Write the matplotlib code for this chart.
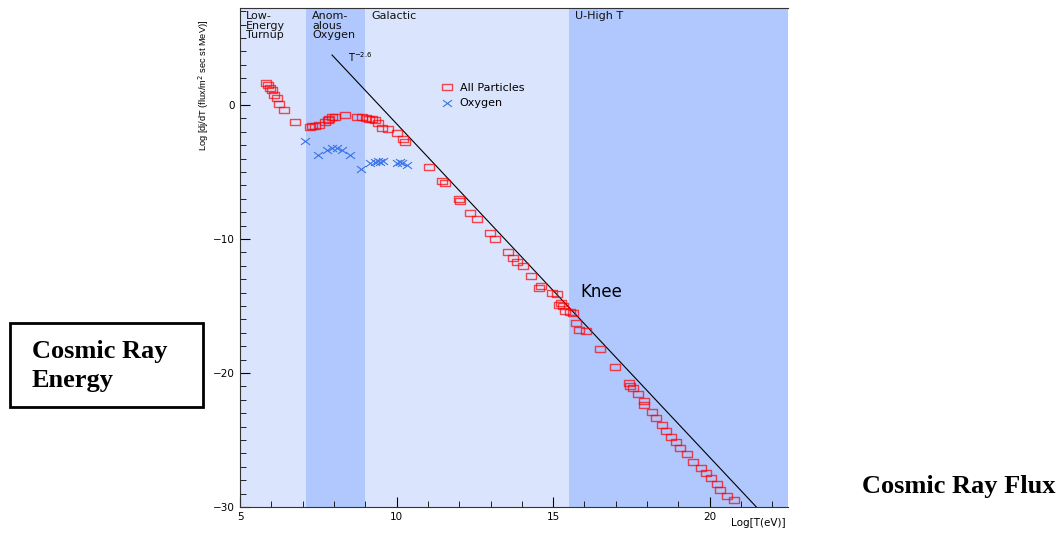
import matplotlib
matplotlib.use('Agg')
import matplotlib.pyplot as plt
from matplotlib.path import Path
from matplotlib.ticker import MultipleLocator
import numpy as np

## Data ##
all_x = [5.82, 5.88, 5.95, 6.01, 6.10, 6.17, 6.25, 6.42, 6.76,
         7.24, 7.31, 7.40, 7.52, 7.72, 7.80, 7.84, 7.95, 8.03, 8.35, 8.73, 8.89,
         9.02, 9.12, 9.20, 9.31, 9.40, 9.53, 9.72, 10.0, 10.19, 10.27,
         11.02, 11.44, 11.55, 11.98, 12.03, 12.35, 12.56, 12.99, 13.15, 13.57,
         13.73, 13.84, 14.03, 14.30, 14.56, 14.60, 14.95, 15.12, 15.20, 15.25,
         15.33, 15.38, 15.55, 15.65,
         15.72, 15.84, 16.05, 16.50, 16.96, 17.41, 17.46, 17.54, 17.71, 17.89,
         17.91, 18.15, 18.28, 18.49, 18.61, 18.77, 18.92, 19.06, 19.27, 19.48,
         19.72, 19.88, 20.04, 20.23, 20.34, 20.55, 20.78]
all_y = [1.66, 1.47, 1.30, 1.12, 0.77, 0.55, 0.10, -0.37, -1.27,
         -1.66, -1.57, -1.60, -1.47, -1.27, -1.15, -1.07, -0.92, -0.87, -0.77, -0.87, -0.92,
         -0.97, -1.02, -1.05, -1.12, -1.37, -1.72, -1.77, -2.07, -2.56, -2.76,
         -4.65, -5.67, -5.85, -7.04, -7.16, -8.08, -8.48, -9.58, -10.0, -11.0,
         -11.4, -11.7, -12.0, -12.76, -13.68, -13.5, -14.05, -14.1, -14.9, -14.8,
         -15.0, -15.4, -15.45, -15.55,
         -16.24, -16.8, -16.87, -18.23, -19.58, -20.77, -20.97, -21.14, -21.6, -22.1,
         -22.39, -22.93, -23.33, -23.88, -24.3, -24.75, -25.17, -25.62, -26.07, -26.62,
         -27.12, -27.49, -27.86, -28.28, -28.73, -29.18, -29.48]

oxy_x = [7.08, 7.50, 7.77, 7.93, 8.09, 8.25, 8.51, 8.86, 9.15, 9.31, 9.40,
         9.47, 9.58, 10.0, 10.10, 10.16, 10.32]
oxy_y = [-2.66, -3.73, -3.36, -3.23, -3.23, -3.36, -3.76, -4.8, -4.35, -4.23, -4.15,
         -4.23, -4.18, -4.3, -4.25, -4.35, -4.45]

# power law guide line end points
line_x = [7.94, 21.49]
line_y = [3.73, -30.0]

# energy bands
band_edges = [5.0, 7.1, 9.0, 15.5, 22.5]
band_labels = ['Low-\nEnergy\nTurnup', 'Anom-\nalous\nOxygen', 'Galactic', 'U-High T']
band_dark = [False, True, False, True]

light_c = '#dae5fd'
dark_c = '#b0c8fd'

# flattened markers like the original
rect = Path([(-1, -0.65), (1, -0.65), (1, 0.65), (-1, 0.65), (-1, -0.65)],
            [Path.MOVETO, Path.LINETO, Path.LINETO, Path.LINETO, Path.CLOSEPOLY])
cross = Path([(-1, -0.75), (1, 0.75), (-1, 0.75), (1, -0.75)],
             [Path.MOVETO, Path.LINETO, Path.MOVETO, Path.LINETO])

fig = plt.figure(figsize=(10.63, 5.33), dpi=100)
ax = fig.add_axes([240/1063, 1-507/533, 548/1063, 499/533])

for i in range(len(band_labels)):
    ax.axvspan(band_edges[i], band_edges[i+1], color=dark_c if band_dark[i] else light_c, lw=0, zorder=0)
    ax.text(band_edges[i] + 0.2, 7.0, band_labels[i], fontsize=8, va='top', ha='left',
            linespacing=0.92, color='#111111')

ax.plot(line_x, line_y, color='black', lw=0.8, zorder=2)
ax.text(8.45, 3.6, r'T$^{-2.6}$', fontsize=7, va='center', ha='left')

ax.plot(all_x, all_y, ls='none', marker=rect, markersize=7.5, mfc='none',
        mec=(1, 0, 0, 0.7), mew=1.0, label='All Particles', zorder=3)
ax.plot(oxy_x, oxy_y, ls='none', marker=cross, markersize=6.5,
        mec='#3a74e8', mew=0.8, label='Oxygen', zorder=3)

ax.text(15.86, -13.96, 'Knee', fontsize=12, va='center', ha='left')

leg = ax.legend(loc='upper left', bbox_to_anchor=(0.35, 0.87), frameon=False,
                fontsize=8, handlelength=1.0, handletextpad=0.6, labelspacing=0.5)

ax.set_xlim(5, 22.5)
ax.set_ylim(-30, 7.24)
ax.xaxis.set_major_locator(MultipleLocator(5))
ax.xaxis.set_minor_locator(MultipleLocator(1))
ax.yaxis.set_major_locator(MultipleLocator(10))
ax.yaxis.set_minor_locator(MultipleLocator(1))
ax.tick_params(which='both', direction='in', labelsize=7.5, top=False, right=False)
ax.tick_params(which='major', length=7, width=0.8)
ax.tick_params(which='minor', length=4, width=0.6)
ax.set_yticks([-30, -20, -10, 0])
ax.set_yticklabels(['\u221230', '\u221220', '\u221210', '0'])
for s in ax.spines.values():
    s.set_linewidth(0.8)
    s.set_color('#333333')
ax.spines['right'].set_visible(False)

fig.text(204/1063, 1-20/533, r'Log [dj/dT (flux/m$^2$ sec st MeV)]', rotation=90,
         fontsize=6.7, va='top', ha='center', family='Liberation Sans')
fig.text(786/1063, 1-523/533, 'Log[T(eV)]', fontsize=7.5, va='center', ha='right')

# the two captions on the slide
fig.text(32/1063, 1-366/533, 'Cosmic Ray\nEnergy', fontsize=19, fontweight='bold',
         family='Liberation Serif', va='center', ha='left', linespacing=1.3)
fig.patches.append(plt.Rectangle((10/1063, 1-407/533), 193/1063, 84/533, fill=False,
                                 lw=2, ec='black', transform=fig.transFigure, figure=fig))
fig.text(1056/1063, 1-486/533, 'Cosmic Ray Flux', fontsize=19, fontweight='bold',
         family='Liberation Serif', va='center', ha='right')

fig.savefig('out.png', dpi=100)
